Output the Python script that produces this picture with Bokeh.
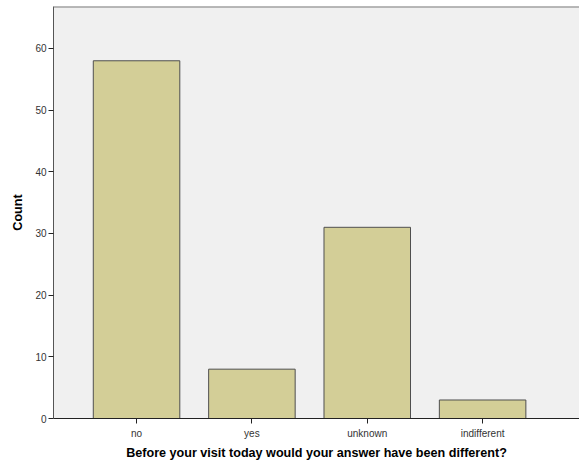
from bokeh.plotting import figure
from bokeh.models import Range1d, FixedTicker, Span, ColumnDataSource
from bokeh.embed import file_html
from bokeh.resources import INLINE

categories = ["no", "yes", "unknown", "indifferent"]
counts = [58, 8, 31, 3]
y_ticks = [0, 10, 20, 30, 40, 50, 60]

xs = list(range(len(categories)))
src = ColumnDataSource(dict(x=xs, top=counts))

Y_END = 66.8

p = figure(width=579, height=464, output_backend="svg", toolbar_location=None,
           x_range=Range1d(-0.72, 3.84), y_range=Range1d(0, Y_END),
           min_border_left=53, min_border_right=0, min_border_top=6, min_border_bottom=46)
p.frame_width = 526
p.frame_height = 412

p.background_fill_color = "#F0F0F0"
p.border_fill_color = "white"
p.outline_line_color = None
p.grid.visible = False

p.vbar(x="x", top="top", width=0.75, bottom=0, source=src,
       fill_color="#D3CE97", line_color="#4F4F4F", line_width=1)

p.add_layout(Span(location=Y_END, dimension="width", line_color="#7A7A7A", line_width=2))

font = "Liberation Sans"
for ax in (p.xaxis[0], p.yaxis[0]):
    ax.axis_line_color = "#222222"
    ax.axis_line_width = 1
    ax.major_tick_line_color = "#222222"
    ax.major_tick_out = 5
    ax.major_tick_in = 0
    ax.minor_tick_line_color = None
    ax.major_label_text_font = font
    ax.major_label_text_font_size = "10px"
    ax.major_label_text_color = "#333333"
    ax.axis_label_text_font = font
    ax.axis_label_text_font_size = "12.6px"
    ax.axis_label_text_font_style = "bold"
    ax.axis_label_text_color = "#000000"

p.yaxis[0].ticker = FixedTicker(ticks=y_ticks)
p.yaxis[0].major_label_standoff = 2
p.yaxis[0].axis_label = "Count"
p.yaxis[0].axis_label_standoff = 7
p.yaxis[0].axis_line_color = "#555555"

p.xaxis[0].ticker = FixedTicker(ticks=xs)
p.xaxis[0].major_label_overrides = {i: c for i, c in enumerate(categories)}
p.xaxis[0].major_label_standoff = 4
p.xaxis[0].axis_label = "Before your visit today would your answer have been different?"
p.xaxis[0].axis_label_standoff = 4

html = file_html(p, INLINE)
html = html.replace("<head>", "<head><style>html,body{margin:0;padding:0;overflow:hidden;}</style>", 1)
open("out.html", "w").write(html)
